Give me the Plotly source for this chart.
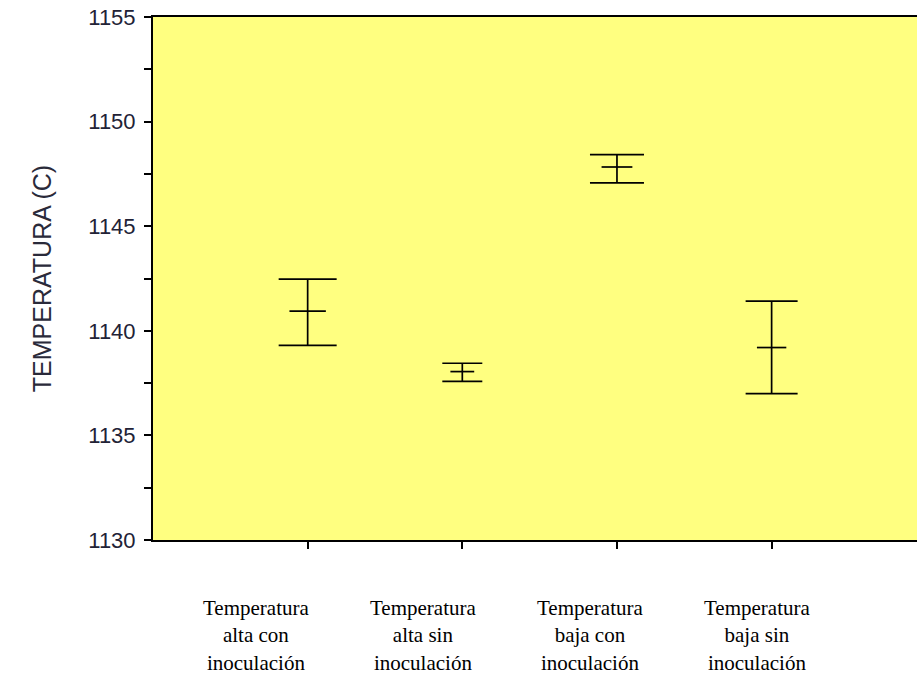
import plotly.graph_objects as go

# ---- data ----
categories = [
    "Temperatura alta con inoculación",
    "Temperatura alta sin inoculación",
    "Temperatura baja con inoculación",
    "Temperatura baja sin inoculación",
]
label_lines = [
    "Temperatura<br>alta con<br>inoculación",
    "Temperatura<br>alta sin<br>inoculación",
    "Temperatura<br>baja con<br>inoculación",
    "Temperatura<br>baja sin<br>inoculación",
]
means = [1140.94, 1138.05, 1147.83, 1139.20]
upper = [1142.47, 1138.45, 1148.42, 1141.42]
lower = [1139.30, 1137.58, 1147.07, 1137.00]

y_tickvals = [1130, 1132.5, 1135, 1137.5, 1140, 1142.5, 1145, 1147.5, 1150, 1152.5, 1155]
y_ticktext = ["1130", "", "1135", "", "1140", "", "1145", "", "1150", "", "1155"]

# ---- styles ----
cap_half_widths = [29, 20, 27, 26]
mean_tick_sizes = [26, 17, 22, 21]

fig = go.Figure()
for i, cat in enumerate(categories):
    fig.add_trace(go.Scatter(
        x=[cat], y=[means[i]],
        mode="markers",
        marker=dict(symbol="line-ew", size=mean_tick_sizes[i],
                    line=dict(color="black", width=1.7)),
        error_y=dict(type="data", symmetric=False,
                     array=[upper[i] - means[i]],
                     arrayminus=[means[i] - lower[i]],
                     color="black", thickness=1.7, width=cap_half_widths[i]),
        showlegend=False, hoverinfo="skip",
    ))

for i, lab in enumerate(label_lines):
    fig.add_annotation(
        x=i, xref="x2", y=-0.103, yref="paper", yanchor="top",
        text=lab, showarrow=False, align="center",
        font=dict(family="Liberation Serif, Times New Roman, serif", size=21, color="black"),
    )

fig.update_layout(
    width=917, height=679,
    margin=dict(l=153, r=0, t=17, b=139),
    paper_bgcolor="white",
    plot_bgcolor="#ffff80",
    xaxis=dict(
        type="category", categoryarray=categories, range=[-1, 3.94],
        showgrid=False, zeroline=False, showticklabels=False,
        ticks="outside", ticklen=7, tickwidth=1.5, tickcolor="black",
        showline=True, linecolor="black", linewidth=2, mirror=True,
    ),
    xaxis2=dict(overlaying="x", range=[-0.617, 3.958], visible=False),
    yaxis=dict(
        range=[1130, 1155], tickvals=y_tickvals, ticktext=y_ticktext,
        showgrid=False, zeroline=False,
        ticks="outside", ticklen=7, tickwidth=1.5, tickcolor="black",
        ticklabelstandoff=4,
        showline=True, linecolor="black", linewidth=2,
        tickfont=dict(family="Liberation Sans, Arial, sans-serif", size=22, color="#222236"),
        title=dict(text="TEMPERATURA (C)", standoff=30,
                   font=dict(family="Liberation Sans, Arial, sans-serif", size=25, color="#2a2a3a")),
    ),
)

fig.write_html("out.html", config={"displayModeBar": False},
               post_script="document.body.style.margin='0';document.body.style.overflow='hidden';")
